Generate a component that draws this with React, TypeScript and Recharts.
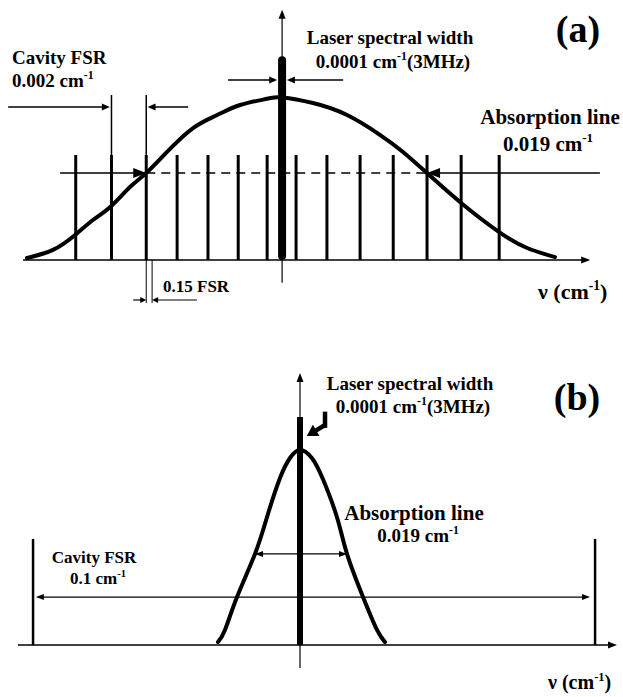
import React from 'react';
import { ComposedChart, Line, XAxis, YAxis, ReferenceLine } from 'recharts';

// ---------- Panel (a): detuning in cavity-FSR units, absorption normalised to peak ----------
const absorptionA = [
  { nu: -7.85, a: 0.012 },
  { nu: -7.05, a: 0.062 },
  { nu: -6.37, a: 0.154 },
  { nu: -5.82, a: 0.246 },
  { nu: -5.29, a: 0.326 },
  { nu: -4.68, a: 0.449 },
  { nu: -4.18, a: 0.535 },
  { nu: -3.54, a: 0.665 },
  { nu: -2.74, a: 0.812 },
  { nu: -2.0, a: 0.892 },
  { nu: -1.29, a: 0.954 },
  { nu: -0.46, a: 0.992 },
  { nu: 0, a: 1.0 },
  { nu: 0.95, a: 0.966 },
  { nu: 2.0, a: 0.892 },
  { nu: 3.02, a: 0.769 },
  { nu: 3.72, a: 0.665 },
  { nu: 4.46, a: 0.535 },
  { nu: 5.51, a: 0.351 },
  { nu: 6.68, a: 0.172 },
  { nu: 7.54, a: 0.074 },
  { nu: 8.4, a: 0.018 },
];
const cavityModesA = [-6.35, -5.25, -4.18, -3.23, -2.28, -1.35, -0.46, 0.43, 1.38, 2.4, 3.42, 4.46, 5.51, 6.68];
const fsrMarkedModesA = [-5.25, -4.18];
const modeHeightA = 0.646;
const fsrMarkTopA = 1.015;
const laserNuA = 0;
const laserTopA = 1.23;
const halfLevelA = 0.535;
const halfCrossA = [-4.18, 4.46];
const offsetMarkA = [-4.18, -4.0]; // 0.15 FSR offset markers

// ---------- Panel (b): detuning in units of 0.01 cm-1, absorption normalised to peak ----------
const absorptionB = [
  { nu: -1.459, a: 0.015 },
  { nu: -1.335, a: 0.077 },
  { nu: -1.121, a: 0.246 },
  { nu: -0.801, a: 0.467 },
  { nu: -0.587, a: 0.656 },
  { nu: -0.356, a: 0.856 },
  { nu: -0.178, a: 0.959 },
  { nu: 0, a: 1.0 },
  { nu: 0.214, a: 0.958 },
  { nu: 0.409, a: 0.85 },
  { nu: 0.658, a: 0.655 },
  { nu: 0.836, a: 0.467 },
  { nu: 1.121, a: 0.246 },
  { nu: 1.37, a: 0.077 },
  { nu: 1.512, a: 0.015 },
];
const cavityModesB = [-4.75, 5.25];
const modeHeightB = 0.544;
const laserNuB = 0;
const laserTopB = 1.169;
const fsrArrowB = { from: -4.7, to: 5.16, level: 0.246 };
const widthArrowB = { from: -0.8, to: 0.836, level: 0.467 };

const INK = '#000';
const FONT = '"Liberation Serif", "Times New Roman", serif';

type SegOpts = {
  w?: number;
  cap?: 'butt' | 'round' | 'square';
  dash?: string;
  headEnd?: boolean;
  headStart?: boolean;
  len?: number;
  half?: number;
};

// Segment shape for ReferenceLine: a straight stroke with optional filled arrowheads.
const seg = (o: SegOpts) => (p: any) => {
  const { x1, y1, x2, y2 } = p;
  const w = o.w ?? 1.5;
  const len = o.len ?? 9;
  const half = o.half ?? 3.5;
  const dx = x2 - x1;
  const dy = y2 - y1;
  const d = Math.hypot(dx, dy) || 1;
  const ux = dx / d;
  const uy = dy / d;
  const head = (tx: number, ty: number, sx: number, sy: number) => {
    const bx = tx - sx * len;
    const by = ty - sy * len;
    const pts = `${tx},${ty} ${bx - sy * half},${by + sx * half} ${bx + sy * half},${by - sx * half}`;
    return <polygon points={pts} fill={INK} />;
  };
  const lx1 = o.headStart ? x1 + ux * (len - 1) : x1;
  const ly1 = o.headStart ? y1 + uy * (len - 1) : y1;
  const lx2 = o.headEnd ? x2 - ux * (len - 1) : x2;
  const ly2 = o.headEnd ? y2 - uy * (len - 1) : y2;
  return (
    <g>
      <line
        x1={lx1}
        y1={ly1}
        x2={lx2}
        y2={ly2}
        stroke={INK}
        strokeWidth={w}
        strokeLinecap={o.cap ?? 'butt'}
        strokeDasharray={o.dash}
      />
      {o.headEnd ? head(x2, y2, ux, uy) : null}
      {o.headStart ? head(x1, y1, -ux, -uy) : null}
    </g>
  );
};

const Seg = (a: { x: number; y: number }, b: { x: number; y: number }, o: SegOpts, key: string) => (
  <ReferenceLine key={key} segment={[a, b]} ifOverflow="visible" shape={seg(o)} />
);

const Sup = ({ children, size }: { children: string; size: number }) => (
  <tspan dy={-size * 0.42} fontSize={size * 0.62}>
    {children}
  </tspan>
);

function Label({
  x,
  y,
  size = 19,
  anchor = 'start',
  children,
}: {
  x: number;
  y: number;
  size?: number;
  anchor?: 'start' | 'middle' | 'end';
  children: React.ReactNode;
}) {
  return (
    <text x={x} y={y} fontFamily={FONT} fontWeight="bold" fontSize={size} textAnchor={anchor} fill={INK}>
      {children}
    </text>
  );
}

function PanelA() {
  return (
    <ComposedChart width={623} height={320} data={absorptionA} margin={{ top: 0, right: 0, bottom: 60, left: 0 }}>
      <XAxis dataKey="nu" type="number" domain={[-8.68, 10.49]} hide allowDataOverflow />
      <YAxis type="number" domain={[0, 1.6]} hide allowDataOverflow />
      {/* frequency axis and the vertical reference through the laser line */}
      {Seg({ x: -7.97, y: 0 }, { x: 9.48, y: 0 }, { w: 1.5, headEnd: true, len: 9, half: 3.5 }, 'axis')}
      {Seg({ x: laserNuA, y: -0.14 }, { x: laserNuA, y: 1.54 }, { w: 1.2, headEnd: true, len: 9, half: 3.5 }, 'vaxis')}
      {/* cavity modes */}
      {cavityModesA.map((m) => Seg({ x: m, y: 0 }, { x: m, y: modeHeightA }, { w: 3 }, `m${m}`))}
      {fsrMarkedModesA.map((m) => Seg({ x: m, y: modeHeightA }, { x: m, y: fsrMarkTopA }, { w: 1.5 }, `fm${m}`))}
      {/* half-maximum level */}
      {Seg({ x: halfCrossA[0], y: halfLevelA }, { x: halfCrossA[1], y: halfLevelA }, { w: 1.5, dash: '9 6' }, 'half')}
      {Seg({ x: -6.83, y: halfLevelA }, { x: halfCrossA[0], y: halfLevelA }, { w: 1.5, headEnd: true, len: 13, half: 5 }, 'hl')}
      {Seg({ x: 9.78, y: halfLevelA }, { x: halfCrossA[1], y: halfLevelA }, { w: 1.5, headEnd: true, len: 13, half: 5 }, 'hr')}
      {/* FSR arrows */}
      {Seg({ x: -8.43, y: 0.942 }, { x: -5.3, y: 0.942 }, { w: 1.5, headEnd: true, len: 8, half: 3.5 }, 'fl')}
      {Seg({ x: -2.89, y: 0.942 }, { x: -4.14, y: 0.942 }, { w: 1.5, headEnd: true, len: 8, half: 3.5 }, 'fr')}
      {/* laser width arrows */}
      {Seg({ x: -1.66, y: 1.108 }, { x: -0.15, y: 1.108 }, { w: 1.5, headEnd: true, len: 8, half: 3.5 }, 'll')}
      {Seg({ x: 1.88, y: 1.108 }, { x: 0.15, y: 1.108 }, { w: 1.5, headEnd: true, len: 8, half: 3.5 }, 'lr')}
      {/* 0.15 FSR offset markers */}
      {offsetMarkA.map((m) => Seg({ x: m, y: 0 }, { x: m, y: -0.265 }, { w: 1 }, `o${m}`))}
      {Seg({ x: -4.58, y: -0.246 }, { x: offsetMarkA[0], y: -0.246 }, { w: 1.2, headEnd: true, len: 6, half: 3 }, 'ol')}
      {Seg({ x: -2.62, y: -0.246 }, { x: offsetMarkA[1], y: -0.246 }, { w: 1.2, headEnd: true, len: 6, half: 3 }, 'or')}
      {/* absorption profile */}
      <Line
        dataKey="a"
        type="natural"
        stroke={INK}
        strokeWidth={4}
        strokeLinecap="round"
        dot={false}
        activeDot={false}
        isAnimationActive={false}
      />
      {/* laser line */}
      {Seg({ x: laserNuA, y: 0.025 }, { x: laserNuA, y: laserTopA }, { w: 8, cap: 'round' }, 'laser')}
    </ComposedChart>
  );
}

function PanelB() {
  return (
    <ComposedChart width={623} height={377} data={absorptionB} margin={{ top: 0, right: 0, bottom: 52, left: 0 }}>
      <XAxis dataKey="nu" type="number" domain={[-5.338, 5.747]} hide allowDataOverflow />
      <YAxis type="number" domain={[0, 5 / 3]} hide allowDataOverflow />
      {Seg({ x: -5.02, y: 0 }, { x: 5.64, y: 0 }, { w: 1.5, headEnd: true, len: 9, half: 3.5 }, 'axis')}
      {Seg({ x: laserNuB, y: -0.118 }, { x: laserNuB, y: 1.395 }, { w: 1.2, headEnd: true, len: 9, half: 3.5 }, 'vaxis')}
      {cavityModesB.map((m) => Seg({ x: m, y: 0 }, { x: m, y: modeHeightB }, { w: 2.5 }, `m${m}`))}
      {Seg(
        { x: fsrArrowB.from, y: fsrArrowB.level },
        { x: fsrArrowB.to, y: fsrArrowB.level },
        { w: 1.2, headEnd: true, headStart: true, len: 8, half: 3 },
        'fsr'
      )}
      {Seg(
        { x: widthArrowB.from, y: widthArrowB.level },
        { x: widthArrowB.to, y: widthArrowB.level },
        { w: 1.2, headEnd: true, headStart: true, len: 8, half: 3 },
        'fwhm'
      )}
      <Line
        dataKey="a"
        type="natural"
        stroke={INK}
        strokeWidth={4}
        strokeLinecap="round"
        dot={false}
        activeDot={false}
        isAnimationActive={false}
      />
      {Seg({ x: laserNuB, y: 0 }, { x: laserNuB, y: laserTopB }, { w: 6 }, 'laser')}
      {/* bent pointer to the laser line */}
      {Seg({ x: 0.445, y: 1.185 }, { x: 0.445, y: 1.125 }, { w: 4.5, cap: 'square' }, 'hook1')}
      {Seg({ x: 0.445, y: 1.128 }, { x: 0.12, y: 1.072 }, { w: 4.5, headEnd: true, len: 11, half: 6.5 }, 'hook2')}
    </ComposedChart>
  );
}

export default function App() {
  return (
    <div style={{ position: 'absolute', left: 0, top: 0, width: 623, height: 697, background: '#fff' }}>
      <div style={{ position: 'absolute', left: 0, top: 0 }}>
        <PanelA />
      </div>
      <div style={{ position: 'absolute', left: 0, top: 320 }}>
        <PanelB />
      </div>
      <svg width={623} height={697} style={{ position: 'absolute', left: 0, top: 0, pointerEvents: 'none' }}>
        {/* panel (a) annotations */}
        <Label x={12} y={64}>Cavity FSR</Label>
        <Label x={12} y={87}>
          0.002 cm<Sup size={19}>-1</Sup>
        </Label>
        <Label x={390} y={44} anchor="middle">Laser spectral width</Label>
        <Label x={393} y={68} anchor="middle">
          0.0001 cm<Sup size={19}>-1</Sup>
          <tspan dy={19 * 0.42}>(3MHz)</tspan>
        </Label>
        <Label x={578} y={42} size={38} anchor="middle">(a)</Label>
        <Label x={550} y={124} size={21} anchor="middle">Absorption line</Label>
        <Label x={548} y={151} size={21} anchor="middle">
          0.019 cm<Sup size={21}>-1</Sup>
        </Label>
        <Label x={163} y={292} size={17}>0.15 FSR</Label>
        <Label x={538} y={299} size={22}>
          ν (cm<Sup size={22}>-1</Sup>
          <tspan dy={22 * 0.42}>)</tspan>
        </Label>

        {/* panel (b) annotations */}
        <Label x={410} y={390} anchor="middle">Laser spectral width</Label>
        <Label x={413} y={413} anchor="middle">
          0.0001 cm<Sup size={19}>-1</Sup>
          <tspan dy={19 * 0.42}>(3MHz)</tspan>
        </Label>
        <Label x={577} y={410} size={38} anchor="middle">(b)</Label>
        <Label x={414} y={520} size={21} anchor="middle">Absorption line</Label>
        <Label x={418} y={542} size={19} anchor="middle">
          0.019 cm<Sup size={19}>-1</Sup>
        </Label>
        <Label x={94} y={563} size={17} anchor="middle">Cavity FSR</Label>
        <Label x={98} y={584} size={17} anchor="middle">
          0.1 cm<Sup size={17}>-1</Sup>
        </Label>
        <Label x={548} y={689} size={20}>
          ν (cm<Sup size={20}>-1</Sup>
          <tspan dy={20 * 0.42}>)</tspan>
        </Label>
      </svg>
    </div>
  );
}
